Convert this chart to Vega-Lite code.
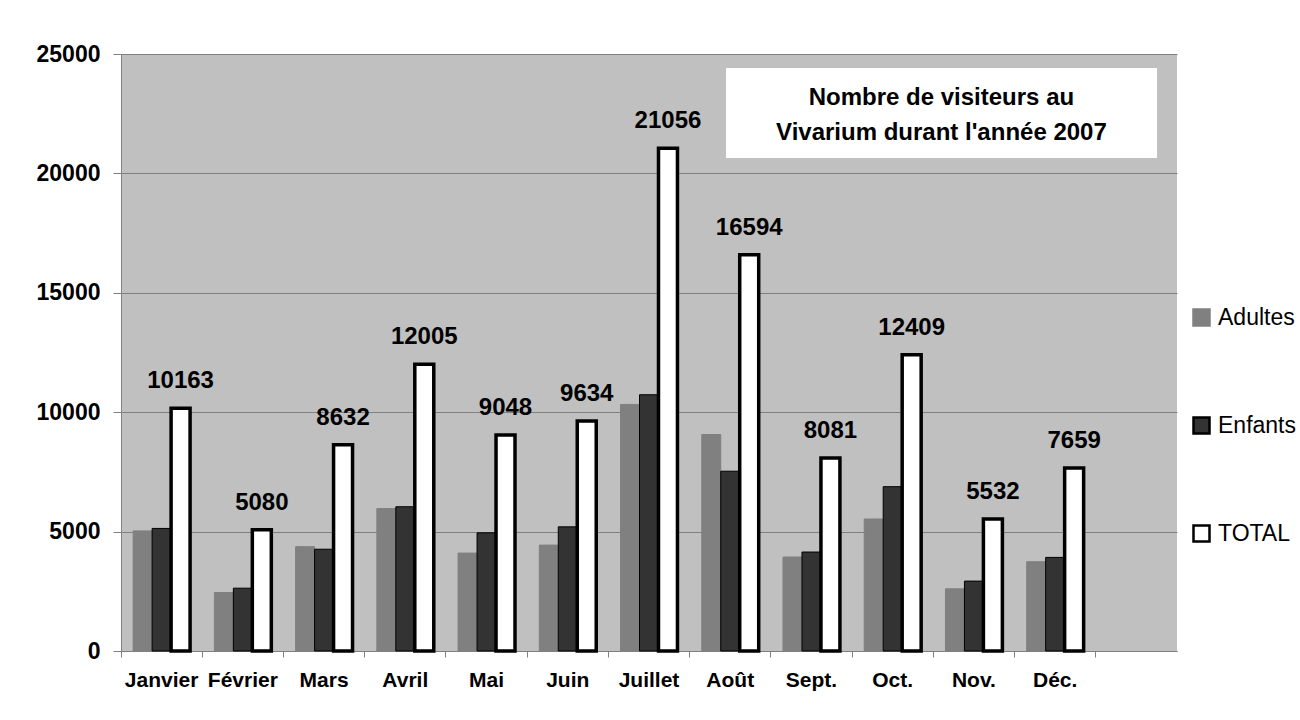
{
  "$schema": "https://vega.github.io/schema/vega-lite/v6.json",
  "autosize": {"type": "none"},
  "padding": {"left": 121, "top": 54, "right": 123, "bottom": 69},
  "width": 1056,
  "height": 597,
  "background": "#ffffff",
  "config": {
    "view": {"fill": "#C0C0C0", "stroke": null},
    "font": "Liberation Sans",
    "axis": {"labelFont": "Liberation Sans", "labelColor": "#000000", "domainColor": "#808080", "tickColor": "#808080", "title": null}
  },
  "datasets": {
    "visitors": [
      {"month": "Janvier", "series": "Adultes", "value": 5030},
      {"month": "Janvier", "series": "Enfants", "value": 5133},
      {"month": "Janvier", "series": "TOTAL", "value": 10163},
      {"month": "Février", "series": "Adultes", "value": 2450},
      {"month": "Février", "series": "Enfants", "value": 2630},
      {"month": "Février", "series": "TOTAL", "value": 5080},
      {"month": "Mars", "series": "Adultes", "value": 4370},
      {"month": "Mars", "series": "Enfants", "value": 4262},
      {"month": "Mars", "series": "TOTAL", "value": 8632},
      {"month": "Avril", "series": "Adultes", "value": 5965},
      {"month": "Avril", "series": "Enfants", "value": 6040},
      {"month": "Avril", "series": "TOTAL", "value": 12005},
      {"month": "Mai", "series": "Adultes", "value": 4100},
      {"month": "Mai", "series": "Enfants", "value": 4948},
      {"month": "Mai", "series": "TOTAL", "value": 9048},
      {"month": "Juin", "series": "Adultes", "value": 4435},
      {"month": "Juin", "series": "Enfants", "value": 5199},
      {"month": "Juin", "series": "TOTAL", "value": 9634},
      {"month": "Juillet", "series": "Adultes", "value": 10325},
      {"month": "Juillet", "series": "Enfants", "value": 10731},
      {"month": "Juillet", "series": "TOTAL", "value": 21056},
      {"month": "Août", "series": "Adultes", "value": 9065},
      {"month": "Août", "series": "Enfants", "value": 7529},
      {"month": "Août", "series": "TOTAL", "value": 16594},
      {"month": "Sept.", "series": "Adultes", "value": 3937},
      {"month": "Sept.", "series": "Enfants", "value": 4144},
      {"month": "Sept.", "series": "TOTAL", "value": 8081},
      {"month": "Oct.", "series": "Adultes", "value": 5528},
      {"month": "Oct.", "series": "Enfants", "value": 6881},
      {"month": "Oct.", "series": "TOTAL", "value": 12409},
      {"month": "Nov.", "series": "Adultes", "value": 2605},
      {"month": "Nov.", "series": "Enfants", "value": 2927},
      {"month": "Nov.", "series": "TOTAL", "value": 5532},
      {"month": "Déc.", "series": "Adultes", "value": 3740},
      {"month": "Déc.", "series": "Enfants", "value": 3919},
      {"month": "Déc.", "series": "TOTAL", "value": 7659}
    ],
    "titlebox": [
      {"line": "Nombre de visiteurs au"}
    ]
  },
  "layer": [
    {
      "data": {"name": "visitors"},
      "mark": {"type": "bar"},
      "encoding": {
        "x": {
          "field": "month", "type": "nominal",
          "scale": {"domain": ["Janvier", "Février", "Mars", "Avril", "Mai", "Juin", "Juillet", "Août", "Sept.", "Oct.", "Nov.", "Déc.", " "], "paddingInner": 0, "paddingOuter": 0},
          "axis": {"bandPosition": 0, "labelAngle": 0, "labelFontSize": 21, "labelFontWeight": "bold", "labelPadding": 12, "tickSize": 6, "labelOverlap": false, "labelAlign": "center"}
        },
        "y": {
          "field": "value", "type": "quantitative",
          "scale": {"domain": [0, 25000], "nice": false},
          "axis": {"values": [0, 5000, 10000, 15000, 20000, 25000], "format": "d", "labelFontSize": 23, "labelFontWeight": "bold", "tickSize": 8, "labelPadding": 13, "gridColor": "#808080", "gridWidth": 1, "grid": true}
        },
        "xOffset": {"field": "series", "type": "nominal", "scale": {"domain": ["Adultes", "Enfants", "TOTAL"], "paddingInner": 0, "paddingOuter": 0.64}},
        "fill": {
          "field": "series", "type": "nominal",
          "scale": {"domain": ["Adultes", "Enfants", "TOTAL"], "range": ["#808080", "#333333", "#ffffff"]},
          "legend": {"title": null, "orient": "none", "legendX": 1069, "legendY": 252, "symbolType": "square", "symbolSize": 256, "symbolStrokeWidth": 2.5, "labelFontSize": 23, "labelFont": "Liberation Sans", "labelColor": "#000000", "labelOffset": 5, "rowPadding": 81, "padding": 0}
        },
        "stroke": {
          "field": "series", "type": "nominal",
          "scale": {"domain": ["Adultes", "Enfants", "TOTAL"], "range": ["#808080", "#000000", "#000000"]},
          "legend": {"title": null, "orient": "none", "legendX": 1069, "legendY": 252, "symbolType": "square", "symbolSize": 256, "symbolStrokeWidth": 2.5, "labelFontSize": 23, "labelFont": "Liberation Sans", "labelColor": "#000000", "labelOffset": 5, "rowPadding": 81, "padding": 0}
        },
        "strokeWidth": {"condition": {"test": "datum.series === 'TOTAL'", "value": 3.5}, "value": 1}
      }
    },
    {
      "data": {"name": "visitors"},
      "transform": [{"filter": "datum.series === 'TOTAL'"}],
      "mark": {"type": "text", "fontSize": 24, "fontWeight": "bold", "baseline": "alphabetic", "dy": -20, "color": "#000000"},
      "encoding": {
        "x": {"field": "month", "type": "nominal"},
        "y": {"field": "value", "type": "quantitative"},
        "xOffset": {"field": "series", "type": "nominal"},
        "text": {"field": "value", "type": "quantitative", "format": "d"}
      }
    },
    {
      "data": {"name": "titlebox"},
      "mark": {"type": "rect", "fill": "#ffffff", "stroke": null},
      "encoding": {
        "x": {"datum": "Août", "bandPosition": 0.448},
        "x2": {"datum": " ", "bandPosition": 0.754},
        "y": {"datum": 24414},
        "y2": {"datum": 20645}
      }
    },
    {
      "data": {"name": "titlebox"},
      "mark": {"type": "text", "text": ["Nombre de visiteurs au", "Vivarium durant l'année 2007"], "fontSize": 24, "fontWeight": "bold", "lineHeight": 35, "align": "center", "baseline": "middle", "color": "#000000"},
      "encoding": {
        "x": {"datum": "Nov.", "bandPosition": 0.1},
        "y": {"datum": 23178}
      }
    }
  ]
}
